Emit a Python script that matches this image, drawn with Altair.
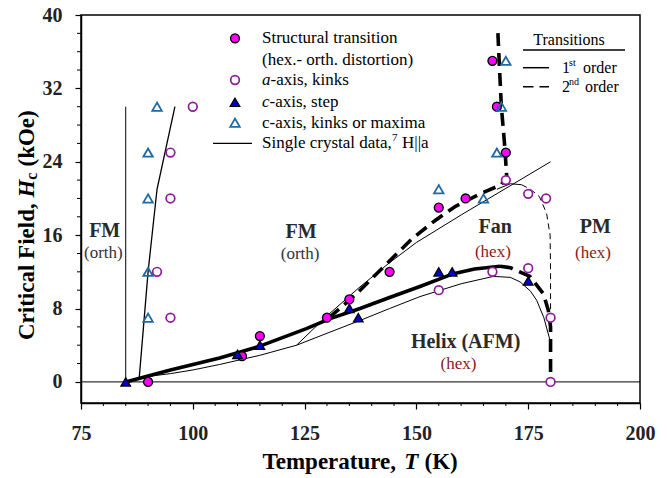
import altair as alt
import pandas as pd

FONT = "Liberation Serif"

# ---------------- data ----------------
# Structural transition (hex.-orth. distortion): filled magenta circles
struct_T = [90, 111, 115, 130, 135, 144, 155, 161, 167, 168, 170]
struct_H = [0, 2.8, 5, 7, 9, 12, 19, 20, 35, 30, 25]
# a-axis kinks: open purple circles
akink_T = [100, 95, 95, 92, 95, 155, 167, 175, 180, 180, 170, 175, 179]
akink_H = [30, 25, 20, 12, 7, 10, 12, 12.4, 7, 0, 22, 20.5, 20]
# c-axis step: filled blue triangles
cstep_T = [85, 110, 115, 135, 137, 155, 158, 175]
cstep_H = [0, 3, 4, 8, 7, 12, 12, 11]
# c-axis kinks or maxima: open blue triangles
ckink_T = [92, 90, 90, 90, 90, 155, 165, 168, 169, 170]
ckink_H = [30, 25, 20, 12, 7, 21, 20, 25, 30, 35]

# thick boundaries
helix_T = [85, 95, 106, 115, 125.4, 130.7, 137.4, 144, 150.8, 158.3, 163, 168.7]
helix_H = [0, 1.3, 2.6, 3.9, 5.8, 6.9, 8.0, 9.2, 10.4, 11.8, 12.3, 12.6]
helixpm_T = [168.7, 171, 175.4, 178.4, 179.5, 180, 180]
helixpm_H = [12.6, 12.45, 11.5, 9.6, 7.8, 6, 0]
fan_T = [130.5, 136.6, 143.4, 149, 154.2, 158.6, 164.2, 169, 170.2, 169.7, 169.0, 168.6, 168.2]
fan_H = [7, 9.6, 12.9, 15.6, 17.6, 19.1, 20.5, 21.5, 22.4, 26, 30, 34, 38.3]

# thin single-crystal lines
v85_T = [85, 85]
v85_H = [0, 30]
steep_T = [88, 90, 92, 96]
steep_H = [0.3, 12, 21, 30]
thinhel_T = [86, 90, 95, 100, 106, 115, 123.2, 130, 137.4, 144, 150.8, 160, 167.2, 171, 173.2, 175.5, 176.9, 178.5, 179.9]
thinhel_H = [0.2, 0.6, 0.9, 1.3, 1.9, 2.9, 4.0, 5.3, 6.7, 8.0, 9.3, 10.7, 11.5, 11.4, 10.9, 9.9, 8.9, 7.0, 4.5]
thinfan_T = [123.2, 130, 137, 144, 150, 160, 170, 180]
thinfan_H = [4.0, 7.2, 10.2, 13.0, 15.2, 18.2, 21.1, 24]
thinpm_T = [168, 171, 173.5]
thinpm_H = [21.0, 21.6, 21.5]
thinpmd_T = [173.5, 175.5, 177.5, 179.1, 179.9, 180, 180]
thinpmd_H = [21.5, 21.0, 20.2, 18.4, 16, 12, 6.5]

zero_T = [75, 200]
zero_H = [0, 0]

# tick values
x_major = [75, 100, 125, 150, 175, 200]
x_minor = [v for v in range(80, 200, 5) if v % 25 != 0]
y_major = [0, 8, 16, 24, 32, 40]
y_minor = [v for v in range(2, 40, 2) if v % 8 != 0]

# region labels
bold_lab = ["FM", "FM", "Fan", "PM", "Helix (AFM)"]
bold_T = [80.3, 124.2, 167.6, 190.0, 161.0]
bold_H = [16.5, 16.3, 16.9, 16.9, 4.4]
orth_lab = ["(orth)", "(orth)"]
orth_T = [80.0, 124.0]
orth_H = [14.0, 13.9]
hex_lab = ["(hex)", "(hex)", "(hex)"]
hex_T = [167.1, 189.5, 159.4]
hex_H = [14.2, 14.0, 2.0]

# ---------------- scales / axes ----------------
xs = alt.Scale(domain=[75, 200], nice=False, zero=False)
ys = alt.Scale(domain=[-2.3, 40], nice=False, zero=False)
xax = alt.Axis(values=x_major, tickSize=6, labelPadding=14, labelFont=FONT, labelFontSize=20,
               labelFontWeight="bold", labelColor="#222", domainColor="black", domainWidth=1.5,
               tickColor="black", tickWidth=1.2, grid=False, title=None, labelOverlap=False,
               labelFlush=False, format="d")
yax = alt.Axis(values=y_major, tickSize=6, labelPadding=13, labelFont=FONT, labelFontSize=20,
               labelFontWeight="bold", labelColor="#222", domainColor="black", domainWidth=1.5,
               tickColor="black", tickWidth=1.2, grid=False, title=None, labelOverlap=False,
               labelFlush=False, format="d")


def X():
    return alt.X("T:Q", scale=xs, axis=xax, title=None)


def Y():
    return alt.Y("H:Q", scale=ys, axis=yax, title=None)


def line(T, H, width, dash=None):
    df = pd.DataFrame({"T": T, "H": H, "i": list(range(len(T)))})
    kw = dict(color="black", strokeWidth=width, clip=False)
    if dash:
        kw["strokeDash"] = dash
    return alt.Chart(df).mark_line(**kw).encode(x=X(), y=Y(), order="i:Q")


def pts(T, H, **kw):
    df = pd.DataFrame({"T": T, "H": H})
    return alt.Chart(df).mark_point(opacity=1, **kw).encode(x=X(), y=Y())


one = pd.DataFrame({"a": [0]})


def txt(s, px, py, size=17, weight="normal", style="normal", align="left",
        baseline="middle", color="black", angle=None):
    mk = dict(font=FONT, fontSize=size, fontWeight=weight, fontStyle=style,
              align=align, baseline=baseline, color=color)
    if angle is not None:
        mk["angle"] = angle
    return alt.Chart(pd.DataFrame({"t": [s]})).mark_text(**mk).encode(
        x=alt.value(px), y=alt.value(py), text="t:N")


def hrule(x1, x2, y, width=1.2, dash=None):
    kw = dict(color="black", strokeWidth=width)
    if dash:
        kw["strokeDash"] = dash
    return alt.Chart(one).mark_rule(**kw).encode(x=alt.value(x1), x2=alt.value(x2), y=alt.value(y))


def lsym(px, py, **kw):
    return alt.Chart(one).mark_point(opacity=1, **kw).encode(x=alt.value(px), y=alt.value(py))


layers = []
# zero line
layers.append(line(zero_T, zero_H, 1.0))
# minor ticks
layers.append(alt.Chart(pd.DataFrame({"T": x_minor})).mark_rule(color="black", strokeWidth=1)
              .encode(x=X(), y=alt.value(388), y2=alt.value(391)))
layers.append(alt.Chart(pd.DataFrame({"H": y_minor})).mark_rule(color="black", strokeWidth=1)
              .encode(y=Y(), x=alt.value(0), x2=alt.value(-4)))

# thin lines
layers.append(line(v85_T, v85_H, 1.0))
layers.append(line(steep_T, steep_H, 1.3))
layers.append(line(thinhel_T, thinhel_H, 1.0))
layers.append(line(thinfan_T, thinfan_H, 1.0))
layers.append(line(thinpm_T, thinpm_H, 1.0))
layers.append(line(thinpmd_T, thinpmd_H, 1.0, dash=[6, 4]))
# thick lines
layers.append(line(helix_T, helix_H, 3.6))
layers.append(line(helixpm_T, helixpm_H, 3.6, dash=[13, 7]))
layers.append(line(fan_T, fan_H, 3.6, dash=[13, 7]))

# markers
PURPLE = "#8e1a9c"
TBLUE = "#1f6aa5"
layers.append(pts(akink_T, akink_H, shape="circle", filled=False, fill="white", fillOpacity=1,
                  stroke=PURPLE, strokeWidth=1.7, size=75))
layers.append(pts(struct_T, struct_H, shape="circle", filled=True, fill="#ff00ff",
                  stroke="black", strokeWidth=1.3, size=80))
layers.append(pts(ckink_T, ckink_H, shape="triangle-up", filled=False, fillOpacity=0,
                  stroke=TBLUE, strokeWidth=1.8, size=90))
layers.append(pts(cstep_T, cstep_H, shape="triangle-up", filled=True, fill="#0000cc",
                  stroke="black", strokeWidth=1.2, size=95))

# region labels
layers.append(alt.Chart(pd.DataFrame({"T": bold_T, "H": bold_H, "s": bold_lab})).mark_text(
    font=FONT, fontSize=20, fontWeight="bold", color="#2a2a2a", align="center", baseline="middle"
).encode(x=X(), y=Y(), text="s:N"))
layers.append(alt.Chart(pd.DataFrame({"T": orth_T, "H": orth_H, "s": orth_lab})).mark_text(
    font=FONT, fontSize=17, color="#333333", align="center", baseline="middle"
).encode(x=X(), y=Y(), text="s:N"))
layers.append(alt.Chart(pd.DataFrame({"T": hex_T, "H": hex_H, "s": hex_lab})).mark_text(
    font=FONT, fontSize=17, color="#8b1a1a", align="center", baseline="middle"
).encode(x=X(), y=Y(), text="s:N"))

# ---------------- legend (pixel positions, plot coords) ----------------
rows = [23.3, 44.5, 65, 87.3, 107.7, 128.3]
sx, tx = 154, 181
layers.append(lsym(sx, rows[0], shape="circle", filled=True, fill="#ff00ff", stroke="black",
                   strokeWidth=1.3, size=80))
layers.append(lsym(sx, rows[2], shape="circle", filled=False, fill="white", fillOpacity=1,
                   stroke=PURPLE, strokeWidth=1.7, size=75))
layers.append(lsym(sx, rows[3], shape="triangle-up", filled=True, fill="#0000cc", stroke="black",
                   strokeWidth=1.2, size=95))
layers.append(lsym(sx, rows[4], shape="triangle-up", filled=False, fillOpacity=0, stroke=TBLUE,
                   strokeWidth=1.8, size=90))
layers.append(hrule(132, 171, rows[5], width=1.2))
layers.append(txt("Structural transition", tx, rows[0]))
layers.append(txt("(hex.- orth. distortion)", tx, rows[1]))
layers.append(txt("a", tx, rows[2], style="italic"))
layers.append(txt("-axis, kinks", tx + 8.5, rows[2]))
layers.append(txt("c", tx, rows[3], style="italic"))
layers.append(txt("-axis, step", tx + 7.5, rows[3]))
layers.append(txt("c-axis, kinks or maxima", tx, rows[4]))
layers.append(txt("Single crystal data,", tx, rows[5]))
layers.append(txt("7", tx + 130, rows[5] - 5, size=11))
layers.append(txt("H||a", tx + 140, rows[5]))

# transitions legend
layers.append(txt("Transitions", 488, 25, size=16, align="center"))
layers.append(hrule(442, 544, 35, width=1.3))
layers.append(hrule(442, 468, 52.7, width=1.5))
layers.append(hrule(442, 468, 71.7, width=1.5, dash=[10.5, 6]))
layers.append(txt("1", 481, 52.7, size=16))
layers.append(txt("st", 488, 47.5, size=10))
layers.append(txt("order", 502, 52.7, size=16))
layers.append(txt("2", 481, 71.7, size=16))
layers.append(txt("nd", 488, 66.5, size=10))
layers.append(txt("order", 504, 71.7, size=16))

# ---------------- axis titles (pieces) ----------------
XB = 454
layers.append(txt("Temperature,", 181.5, XB, size=23, weight="bold", baseline="alphabetic"))
layers.append(txt("T", 323.3, XB, size=23, weight="bold", style="italic", baseline="alphabetic"))
layers.append(txt("(K)", 343.5, XB, size=23, weight="bold", baseline="alphabetic"))

YB = -47
layers.append(txt("Critical Field,", YB, 325, size=23, weight="bold", baseline="alphabetic", angle=270))
layers.append(txt("H", YB, 182.5, size=23, weight="bold", style="italic", baseline="alphabetic", angle=270))
layers.append(txt("c", YB + 3, 164.8, size=16, weight="bold", baseline="alphabetic", angle=270))
layers.append(txt("(kOe)", YB, 151.5, size=23, weight="bold", baseline="alphabetic", angle=270))

chart = alt.layer(*layers).properties(
    width=559, height=388,
    padding={"left": 81, "top": 15, "right": 27, "bottom": 75},
    autosize=alt.AutoSizeParams(type="none"),
    background="white",
).configure_view(stroke="black", strokeWidth=1.5)

chart.save("out.html", embed_options={"renderer": "svg", "actions": False})
